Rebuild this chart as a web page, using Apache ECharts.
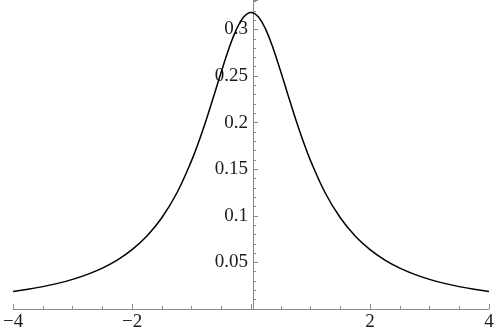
<!DOCTYPE html>
<html><head><meta charset="utf-8">
<script src="https://cdn.jsdelivr.net/npm/echarts@6/dist/echarts.min.js"></script>
<style>html,body{margin:0;padding:0;background:#fff}#c{width:500px;height:335px}</style>
</head><body><div id="c"></div>
<script>
const xValues = [-4,-3.75,-3.5,-3.25,-3,-2.75,-2.5,-2.25,-2,-1.75,-1.5,-1.25,-1,-0.875,-0.75,-0.625,-0.5,-0.375,-0.25,-0.125,0,0.125,0.25,0.375,0.5,0.625,0.75,0.875,1,1.25,1.5,1.75,2,2.25,2.5,2.75,3,3.25,3.5,3.75,4];
const yValues = [0.0187,0.0211,0.0240,0.0275,0.0318,0.0372,0.0439,0.0525,0.0637,0.0784,0.0979,0.1242,0.1592,0.1803,0.2037,0.2289,0.2546,0.2791,0.2996,0.3134,0.3183,0.3134,0.2996,0.2791,0.2546,0.2289,0.2037,0.1803,0.1592,0.1242,0.0979,0.0784,0.0637,0.0525,0.0439,0.0372,0.0318,0.0275,0.0240,0.0211,0.0187];
const xTickLabels = ['-4','-2','2','4'];
const yTickLabels = ['0.05','0.1','0.15','0.2','0.25','0.3'];

const chart = echarts.init(document.getElementById('c'), null, {renderer:'canvas'});
const axisCol = '#8c8c8c';
const font = {fontFamily:'Liberation Serif', fontSize:19, color:'#1a1a1a'};
chart.setOption({
  animation:false,
  grid:{left:8, right:11, top:0, bottom:26},
  xAxis:{
    type:'value', min:-4, max:4, interval:2,
    axisLine:{show:true, onZero:true, lineStyle:{color:axisCol, width:1}},
    axisTick:{show:true, inside:true, length:5, lineStyle:{color:axisCol}},
    minorTick:{show:true, splitNumber:4, length:3, lineStyle:{color:axisCol}},
    splitLine:{show:false},
    axisLabel:Object.assign({margin:4, formatter:v=>{const s=String(v).replace('-','\u2212'); return xTickLabels.includes(String(v))?s:'';}}, font)
  },
  yAxis:{
    type:'value', min:0, max:0.3316, interval:0.05, offset:-240,
    axisLine:{show:true, lineStyle:{color:axisCol, width:1}},
    axisTick:{show:true, inside:true, length:5, lineStyle:{color:axisCol}},
    minorTick:{show:true, splitNumber:5, length:3, lineStyle:{color:axisCol}},
    splitLine:{show:false},
    axisLabel:Object.assign({margin:5, formatter:v=>{const s=String(+v.toFixed(2)); return yTickLabels.includes(s)?s:'';}}, font)
  },
  series:[{
    type:'line', smooth:0.4, showSymbol:false,
    data:xValues.map((x,i)=>[x,yValues[i]]),
    lineStyle:{color:'#000', width:1.5}
  }]
});
</script></body></html>
